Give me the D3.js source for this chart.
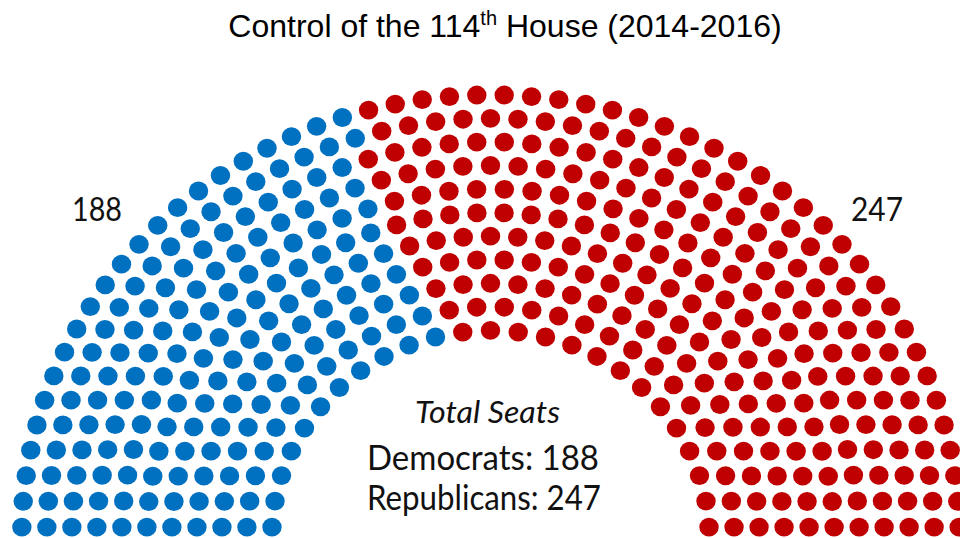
<!DOCTYPE html>
<html><head><meta charset="utf-8">
<script src="https://cdn.jsdelivr.net/npm/d3@7"></script>
<style>body{margin:0;background:#fff} svg{display:block}</style>
</head><body>
<svg id="chart" width="960" height="538"></svg>
<script>
// ---- data ----
const parties = ["Democrats", "Republicans"];
const seats = [188, 247];
const colors = ["#0070C0", "#C00000"];
// blue (Democratic) dots counted in each ring of the picture, inner ring first
const demDotsPerRing = [11, 12, 13, 14, 15, 16, 17, 18, 19, 21, 22];
const titleMain = "Control of the 114";
const titleSup = "th";
const titleEnd = " House (2014-2016)";
const totalLabel = "Total Seats";

// ---- parliament layout (classic hemicycle algorithm) ----
const total = d3.sum(seats);
function rowCap(n, i) { return Math.floor(Math.PI / (2 * Math.asin(2 / (3 * n + 4 * i - 2)))); }
function capacity(n) { let s = 0; for (let i = 1; i <= n; i++) s += rowCap(n, i); return s; }
let rows = 1;
while (capacity(rows) < total) rows++;
const dotR = 0.4 / rows;
const ringsOut = [];
function placeRow(J, R) {
  const ring = [];
  if (J === 1) { ring.push({a: Math.PI / 2, R}); }
  else {
    const a0 = Math.sin(dotR / R);
    for (let j = 0; j < J; j++) ring.push({a: j * (Math.PI - 2 * a0) / (J - 1) + a0, R});
  }
  ringsOut.push(ring);
}
let placed = 0;
for (let i = 1; i < rows; i++) {
  const J = Math.floor(total / capacity(rows) * Math.PI / (2 * Math.asin(2 / (3 * rows + 4 * i - 2))));
  placeRow(J, (3 * rows + 4 * i - 2) / (4 * rows));
  placed += J;
}
placeRow(total - placed, (7 * rows - 2) / (4 * rows));
const pts = [];
ringsOut.forEach((ring, ri) => {
  ring.sort((p, q) => q.a - p.a); // left to right
  ring.forEach((p, k) => {
    p.x = 1.75 + p.R * Math.cos(p.a);
    p.y = p.R * Math.sin(p.a);
    p.party = k < demDotsPerRing[ri] ? 0 : 1;
    pts.push(p);
  });
});

// ---- scales ----
const cx = 490.5, cy = 536.5, sx = 275, sy = 259.1;
const x = d3.scaleLinear().domain([0, 3.5]).range([cx - 1.75 * sx, cx + 1.75 * sx]);
const y = d3.scaleLinear().domain([0, 1.75]).range([cy, cy - 1.75 * sy]);
const color = d3.scaleOrdinal().domain(d3.range(parties.length)).range(colors);

const svg = d3.select("#chart");
svg.append("rect").attr("width", 960).attr("height", 538).attr("fill", "#fff");

svg.append("g").selectAll("ellipse").data(pts).join("ellipse")
  .attr("cx", d => x(d.x)).attr("cy", d => y(d.y))
  .attr("rx", (x(dotR) - x(0)) * 0.97).attr("ry", (y(0) - y(dotR)) * 1.0)
  .attr("fill", d => color(d.party));

// ---- title ----
const t = svg.append("text").attr("x", 505).attr("y", 37)
  .attr("text-anchor", "middle").attr("font-family", "Liberation Sans, Arial, sans-serif")
  .attr("font-size", 32).attr("fill", "#000");
t.append("tspan").text(titleMain);
t.append("tspan").attr("font-size", 20).attr("dy", -12).text(titleSup);
t.append("tspan").attr("dy", 12).text(titleEnd);

// ---- labels ----
const lab = svg.append("g").attr("font-family", "Lato, sans-serif").attr("fill", "#111").attr("text-anchor", "middle");
lab.append("text").attr("x", 97).attr("y", 221).attr("font-size", 32).attr("textLength", 50).attr("lengthAdjust", "spacingAndGlyphs").text(seats[0]);
lab.append("text").attr("x", 877).attr("y", 221).attr("font-size", 32).attr("textLength", 52).attr("lengthAdjust", "spacingAndGlyphs").text(seats[1]);
lab.append("text").attr("x", 487.5).attr("y", 423).attr("font-size", 31).attr("font-style", "italic")
  .attr("textLength", 145).attr("lengthAdjust", "spacingAndGlyphs").text(totalLabel);
lab.append("text").attr("x", 483).attr("y", 470).attr("font-size", 34)
  .attr("textLength", 232).attr("lengthAdjust", "spacingAndGlyphs").text(parties[0] + ": " + seats[0]);
lab.append("text").attr("x", 484).attr("y", 510).attr("font-size", 34)
  .attr("textLength", 234).attr("lengthAdjust", "spacingAndGlyphs").text(parties[1] + ": " + seats[1]);
</script>
</body></html>
